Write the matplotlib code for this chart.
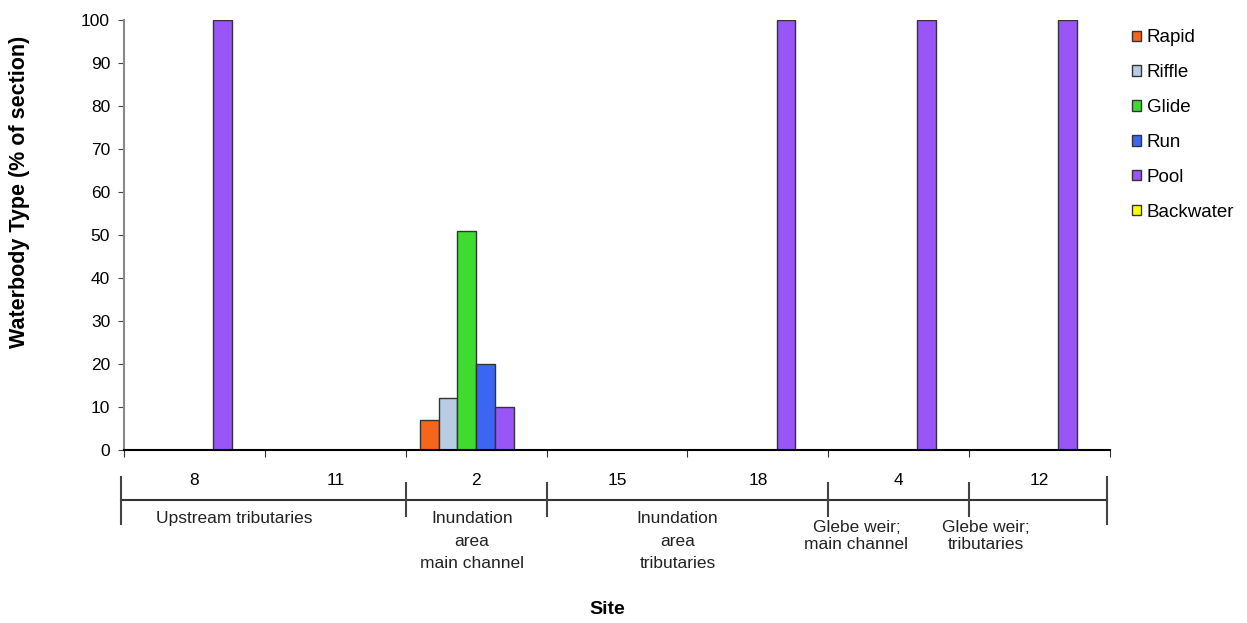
import numpy as np
import matplotlib
matplotlib.use("Agg")
import matplotlib.pyplot as plt

plt.rcParams['font.family'] = ['Liberation Sans', 'DejaVu Sans']

# data
sites = ['8', '11', '2', '15', '18', '4', '12']
types = ['Rapid', 'Riffle', 'Glide', 'Run', 'Pool', 'Backwater']
rapid = [0, 0, 7, 0, 0, 0, 0]
riffle = [0, 0, 12, 0, 0, 0, 0]
glide = [0, 0, 51, 0, 0, 0, 0]
run = [0, 0, 20, 0, 0, 0, 0]
pool = [100, 0, 10, 0, 100, 100, 100]
backwater = [0, 0, 0, 0, 0, 0, 0]
colors = ['#f4661c', '#b8cce4', '#3ddc2f', '#3c66f0', '#9a55f6', '#ffff00']

groups = ['Upstream tributaries', 'Inundation\narea\nmain channel',
          'Inundation\narea\ntributaries', 'Glebe weir;\nmain channel',
          'Glebe weir;\ntributaries']
group_pos = [0.28, 1.97, 3.43, 4.70, 5.62]
group_top = [-0.142, -0.142, -0.142, -0.163, -0.163]
group_ls = [1.2, 1.63, 1.63, 1.18, 1.18]
group_bounds = [-0.52, 1.5, 2.5, 4.5, 5.5, 6.48]

fig = plt.figure(figsize=(12.47, 6.23), dpi=100)
ax = fig.add_axes([124/1247, 1-450/623, (1110-124)/1247, 430/623])

x = np.arange(len(sites))
w = 0.8 / len(types)
series = [rapid, riffle, glide, run, pool, backwater]
for i, (name, vals) in enumerate(zip(types, series)):
    ax.bar(x + (i - 2.5) * w, vals, w, color=colors[i], edgecolor='#333333',
           linewidth=1, label=name)

ax.set_xlim(-0.5, 6.5)
ax.set_ylim(0, 100)
ax.set_yticks(range(0, 101, 10))
ax.set_xticks(np.arange(-0.5, 7, 1))
ax.set_xticklabels([])
ax.tick_params(axis='y', labelsize=12.5, direction='out', length=4, color='#444444', pad=6)
ax.tick_params(axis='x', direction='out', length=5, color='#333333')
for s in ['top', 'right']:
    ax.spines[s].set_visible(False)
ax.spines['left'].set_color('#888888')
ax.spines['left'].set_linewidth(1.5)
ax.spines['bottom'].set_linewidth(1.5)

# lower label table
tr = ax.get_xaxis_transform()
ax.plot([group_bounds[0], group_bounds[-1]], [-0.1163, -0.1163], color='#333333',
        lw=1.5, transform=tr, clip_on=False)
for j, b in enumerate(group_bounds):
    if j == 0 or j == len(group_bounds) - 1:
        y0, y1 = -0.063, -0.172
    else:
        y0, y1 = -0.077, -0.154
    ax.plot([b, b], [y0, y1], color='#444444', lw=1.5, transform=tr, clip_on=False)
for xi, s in zip(x, sites):
    ax.text(xi, -0.072, s, transform=tr, ha='center', va='center', fontsize=12.5)
for gp, g, gt, ls in zip(group_pos, groups, group_top, group_ls):
    ax.text(gp, gt, g, transform=tr, ha='center', va='top', fontsize=12.5,
            linespacing=ls, color='#222222')

fig.text(20/1247, 1-192/623, 'Waterbody Type (% of section)', rotation=90,
         ha='center', va='center', fontsize=15.5, fontweight='bold')
fig.text(607/1247, 1-610/623, 'Site', ha='center', va='center', fontsize=14,
         fontweight='bold')

fig.legend(loc='upper left', bbox_to_anchor=(1124/1247, 1-22/623), frameon=False,
           fontsize=13.5, handlelength=0.5, handleheight=0.5, handletextpad=0.3,
           labelspacing=0.95, borderaxespad=0)

fig.savefig('out.png', dpi=100)
